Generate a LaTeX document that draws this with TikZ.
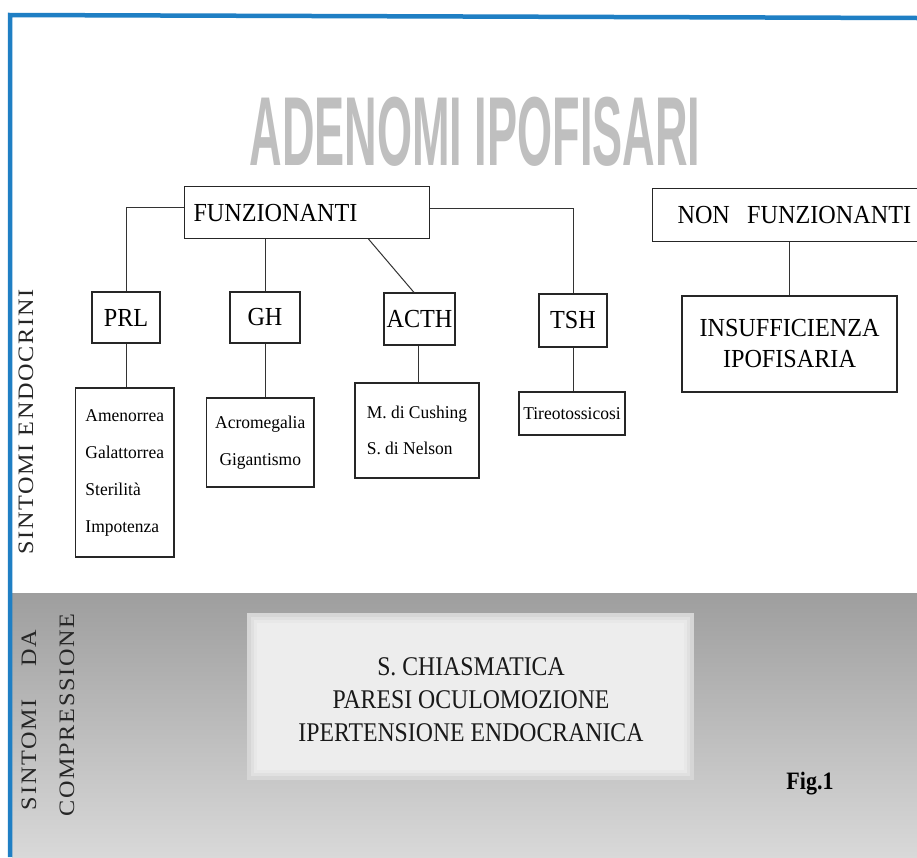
\documentclass[tikz,border=0pt]{standalone}
\usepackage{fontspec}
\setmainfont{Liberation Serif}
\newfontfamily\condbig[FakeStretch=0.93]{Liberation Serif}
\newfontfamily\condsm[FakeStretch=0.97]{Liberation Serif}
\newfontfamily\condbot[FakeStretch=0.88]{Liberation Serif}
\newfontfamily\widecaps[FakeStretch=1.1,LetterSpace=8]{Liberation Serif}
\newfontfamily\titlefont[FakeStretch=0.46]{Liberation Sans}
\definecolor{borderblue}{HTML}{1F7FC4}
\begin{document}
\begin{tikzpicture}[x=1pt,y=-1pt,
  box/.style={draw=black!85, line width=1.1pt, inner sep=0pt, fill=white},
  conn/.style={draw=black!80, line width=1pt},
  bigtxt/.style={font=\condbig\fontsize{26}{31}\selectfont},
  smalltxt/.style={font=\condsm\fontsize{18}{37}\selectfont},
  sidelabel/.style={rotate=90, inner sep=0pt, font=\widecaps\fontsize{22}{22}\selectfont, text=black!85}
]
\useasboundingbox (0,0) rectangle (917,857);
\clip (0,0) rectangle (917,857);
\fill[white] (0,0) rectangle (917,857);

% grey band
\shade[top color=black!38, bottom color=black!15] (12,593) rectangle (917,857);
\fill[black!16] (247,613) rectangle (694,780);
\fill[black!12] (251,617) rectangle (690,776);
\fill[black!9] (254,620) rectangle (687,773);
\fill[black!7] (257,623) rectangle (684,770);

% blue frame
\draw[borderblue, line width=4.5pt, line join=miter] (10,857) -- (10,15) -- (917,18);

% title
\node[inner sep=0pt, text=black!25, font=\titlefont\bfseries\fontsize{98}{98}\selectfont] (title) at (475,132) {ADENOMI IPOFISARI};

% top level
\node[box, bigtxt, anchor=north west, minimum width=245pt, minimum height=52pt, text width=227pt, inner xsep=9pt, align=left] (funz) at (184,186) {FUNZIONANTI};
\node[box, font=\condbig\fontsize{26}{31}\selectfont, anchor=north west, minimum width=300pt, minimum height=53pt, text width=250pt, inner xsep=25pt, align=left] (nonf) at (652,188) {NON\ \ FUNZIONANTI};

% hormones
\node[box, bigtxt, minimum width=68pt, minimum height=51pt] (prl) at (126,317.5) {PRL};
\node[box, bigtxt, minimum width=70pt, minimum height=51pt] (gh) at (265,317.5) {GH};
\node[box, bigtxt, minimum width=71pt, minimum height=52pt] (acth) at (419.5,319) {ACTH};
\node[box, bigtxt, minimum width=68pt, minimum height=53pt] (tsh) at (573,320.5) {TSH};

% symptoms
\node[box, smalltxt, minimum width=98.5pt, minimum height=169pt, align=left] (amen) at (124.75,472.5) {Amenorrea\\Galattorrea\\Sterilità\\Impotenza};
\node[box, smalltxt, minimum width=107.5pt, minimum height=89pt, align=center] (acro) at (260.25,442.5) {Acromegalia\\Gigantismo};
\node[box, font=\condsm\fontsize{18}{36}\selectfont, minimum width=124pt, minimum height=95pt, align=left] (cush) at (417,430.5) {M. di Cushing\\S. di Nelson};
\node[box, smalltxt, minimum width=106pt, minimum height=43pt] (tireo) at (572,413.5) {Tireotossicosi};
\node[box, font=\condbig\fontsize{26}{31}\selectfont, minimum width=215pt, minimum height=96pt, align=center] (insuf) at (789.5,344) {INSUFFICIENZA\\IPOFISARIA};

% connectors
\draw[conn] ([yshift=5pt]funz.west) -| (prl.north);
\draw[conn] ([yshift=4pt]funz.east) -| (tsh.north);
\draw[conn] (funz.south -| gh.north) -- (gh.north);
\draw[conn] ([xshift=61.5pt]funz.south) -- ([xshift=-5.5pt]acth.north);
\draw[conn] (prl.south) -- (prl.south |- amen.north);
\draw[conn] (gh.south) -- (gh.south |- acro.north);
\draw[conn] ([xshift=-1.5pt]acth.south) -- ([xshift=-1.5pt]acth.south |- cush.north);
\draw[conn] (tsh.south) -- (tsh.south |- tireo.north);
\draw[conn] (insuf.north) -- (insuf.north |- nonf.south);

% side labels
\node[sidelabel] (sendo) at (26,422) {SINTOMI ENDOCRINI};
\node[sidelabel] (sda) at (29,720) {\makebox[180pt]{SINTOMI\hfill DA}};
\node[sidelabel] (scomp) at (67,715) {COMPRESSIONE};

% compression symptoms
\node[inner sep=0pt, align=center, text=black!90, font=\condbot\fontsize{27}{33}\selectfont] (compr) at (471,700) {S. CHIASMATICA\\PARESI OCULOMOZIONE\\IPERTENSIONE ENDOCRANICA};
\node[inner sep=0pt, anchor=base, font=\condbot\bfseries\fontsize{25}{25}\selectfont] (fig) at (810,789) {Fig.1};
\end{tikzpicture}
\end{document}
